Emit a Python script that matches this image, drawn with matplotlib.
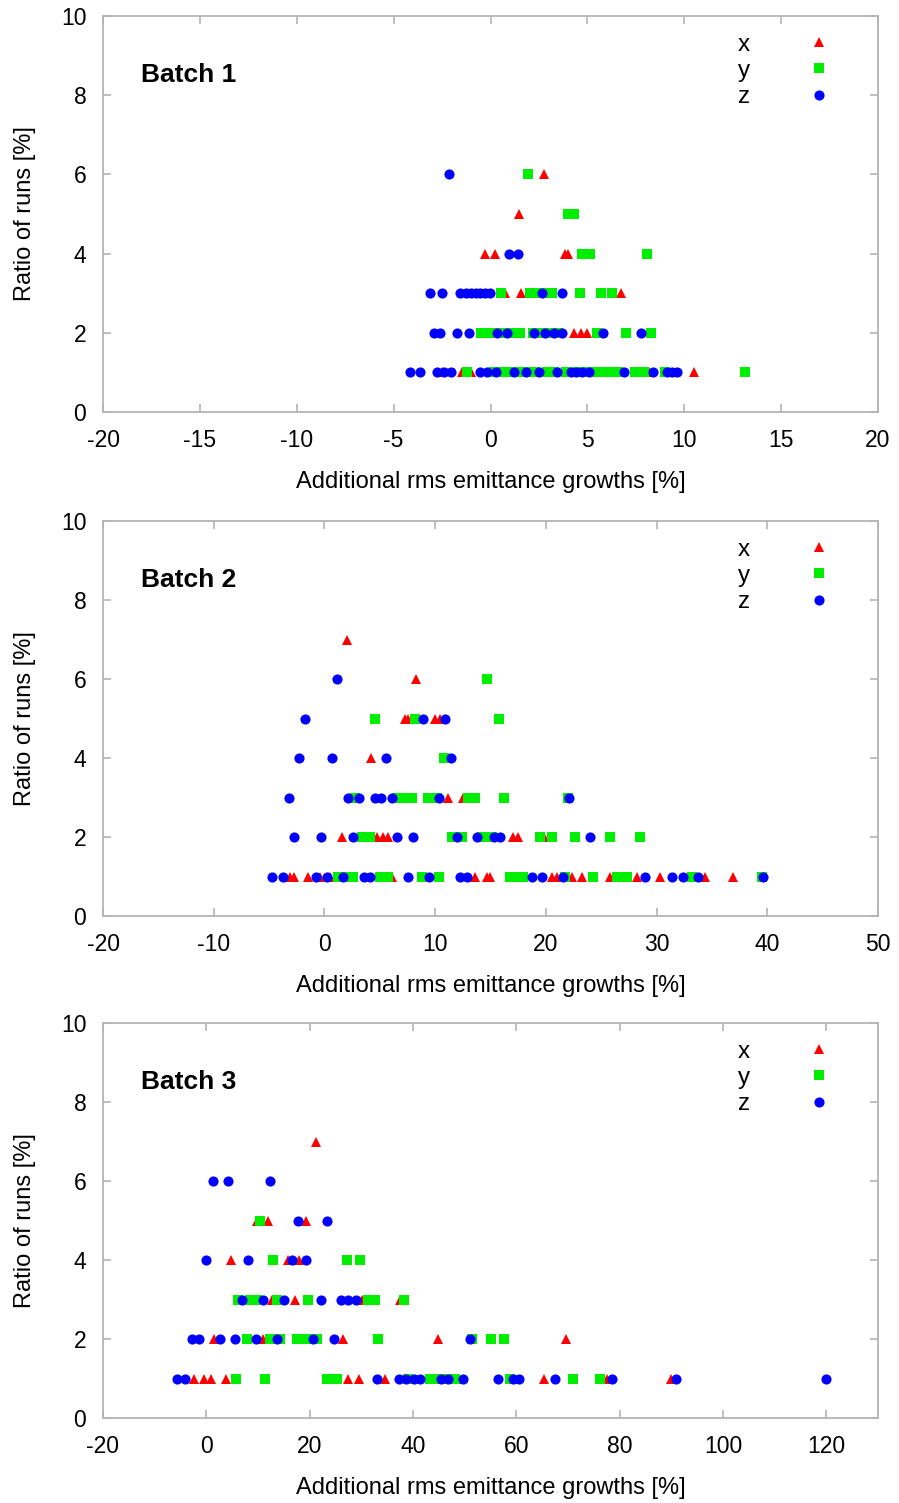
import matplotlib
matplotlib.use("Agg")
import matplotlib.pyplot as plt

plt.rcParams['font.family'] = ['Liberation Sans', 'DejaVu Sans']
plt.rcParams['axes.unicode_minus'] = False

# ---------------- data ----------------
b1_x_val = [2.75, 1.46, -0.29, 0.22, 3.82, 3.99, 0.74, 1.58, 6.74, 4.3, 4.65, 4.99,
            -2.49, -1.46, -1.03, 8.17, 10.5]
b1_x_run = [6, 5, 4, 4, 4, 4, 3, 3, 3, 2, 2, 2, 1, 1, 1, 1, 1]
b1_y_val = [1.94, 4.0, 4.3, 4.73, 5.13, 8.07,
            0.52, 2.06, 2.41, 2.75, 3.18, 4.61, 5.68, 6.28,
            -0.5, -0.1, 0.3, 0.7, 1.1, 1.5, 2.2, 2.6, 3.0, 3.5, 5.5, 6.97, 8.26,
            -1.2, 0.2, 0.7, 1.0, 1.5, 2.0, 2.3, 2.9, 3.3, 3.9, 4.5, 5.0, 5.4, 5.8, 6.2, 6.6,
            7.45, 7.91, 9.03, 13.13]
b1_y_run = [6, 5, 5, 4, 4, 4,
            3, 3, 3, 3, 3, 3, 3, 3,
            2, 2, 2, 2, 2, 2, 2, 2, 2, 2, 2, 2, 2,
            1, 1, 1, 1, 1, 1, 1, 1, 1, 1, 1, 1, 1, 1, 1, 1,
            1, 1, 1, 1]
b1_z_val = [-2.15, 0.95, 1.43,
            -3.1, -2.49, -1.55, -1.29, -1.03, -0.77, -0.52, -0.26, -0.03, 2.67, 3.7,
            -2.92, -2.62, -1.72, -1.12, 0.34, 0.83, 2.24, 2.79, 3.27, 3.7, 5.8, 7.78,
            -4.13, -3.65, -2.75, -2.41, -2.06, -0.52, -0.17, 0.26, 1.2, 1.81, 2.49, 3.44,
            4.13, 4.39, 4.73, 5.07, 6.88, 8.38, 9.12, 9.38, 9.64]
b1_z_run = [6, 4, 4,
            3, 3, 3, 3, 3, 3, 3, 3, 3, 3, 3,
            2, 2, 2, 2, 2, 2, 2, 2, 2, 2, 2, 2,
            1, 1, 1, 1, 1, 1, 1, 1, 1, 1, 1, 1,
            1, 1, 1, 1, 1, 1, 1, 1, 1]

b2_x_val = [2.01, 8.24, 7.28, 7.58, 9.99, 10.44, 4.21, 11.19, 12.49,
            1.56, 4.78, 5.27, 5.72, 17.0, 17.46, 19.8,
            -3.1, -2.75, -1.45, -0.4, 0.5, 6.08, 13.6, 14.66, 14.96, 20.53, 20.98,
            22.4, 23.24, 25.8, 28.2, 30.3, 34.38, 36.94]
b2_x_run = [7, 6, 5, 5, 5, 5, 4, 3, 3,
            2, 2, 2, 2, 2, 2, 2,
            1, 1, 1, 1, 1, 1, 1, 1, 1, 1, 1,
            1, 1, 1, 1, 1, 1, 1]
b2_y_val = [14.66, 4.57, 8.18, 15.74, 10.8,
            2.76, 6.53, 7.28, 7.89, 9.39, 10.14, 13.0, 13.6, 16.25, 22.0,
            3.37, 4.12, 11.5, 12.4, 14.2, 15.1, 19.48, 20.53, 22.67, 25.83, 28.51,
            1.26, 2.0, 2.61, 5.02, 5.77, 8.79, 10.38, 16.77, 17.37, 17.97, 21.7,
            24.23, 26.4, 27.36, 33.18, 39.5]
b2_y_run = [6, 5, 5, 5, 4,
            3, 3, 3, 3, 3, 3, 3, 3, 3, 3,
            2, 2, 2, 2, 2, 2, 2, 2, 2, 2, 2,
            1, 1, 1, 1, 1, 1, 1, 1, 1, 1, 1,
            1, 1, 1, 1, 1]
b2_z_val = [1.17, -1.72, 8.94, 10.9, -2.26, 0.72, 5.53, 11.41,
            -3.2, 2.16, 3.13, 4.57, 5.11, 6.08, 10.35, 22.12,
            -2.72, -0.28, 2.61, 6.59, 7.97, 11.95, 13.81, 15.35, 15.86, 24.02,
            -4.7, -3.71, -0.76, 0.2, 1.71, 3.6, 4.12, 7.52, 9.48, 12.25, 12.85,
            18.72, 19.68, 21.58, 28.96, 31.43, 32.37, 33.78, 39.65]
b2_z_run = [6, 5, 5, 5, 4, 4, 4, 4,
            3, 3, 3, 3, 3, 3, 3, 3,
            2, 2, 2, 2, 2, 2, 2, 2, 2, 2,
            1, 1, 1, 1, 1, 1, 1, 1, 1, 1, 1,
            1, 1, 1, 1, 1, 1, 1, 1]

b3_x_val = [21.2, 9.75, 12.0, 19.3, 4.7, 15.9, 18.0, 12.66, 17.2, 30.1, 37.5,
            1.55, 11.0, 26.4, 44.9, 69.6,
            -2.4, -0.4, 0.85, 3.8, 27.5, 29.6, 34.6, 48.8, 65.4, 77.6, 89.9]
b3_x_run = [7, 5, 5, 5, 4, 4, 4, 3, 3, 3, 3,
            2, 2, 2, 2, 2,
            1, 1, 1, 1, 1, 1, 1, 1, 1, 1, 1]
b3_y_val = [10.4, 12.97, 27.3, 29.75,
            6.2, 8.46, 9.75, 13.6, 19.7, 31.35, 32.65, 38.3,
            7.94, 12.3, 14.3, 17.5, 19.4, 21.4, 33.2, 51.5, 55.0, 57.6,
            5.7, 11.4, 23.3, 25.2, 39.0, 43.3, 44.9, 46.5, 48.1, 58.8, 70.9, 76.1]
b3_y_run = [5, 4, 4, 4,
            3, 3, 3, 3, 3, 3, 3, 3,
            2, 2, 2, 2, 2, 2, 2, 2, 2, 2,
            1, 1, 1, 1, 1, 1, 1, 1, 1, 1, 1, 1]
b3_z_val = [1.36, 4.14, 12.4, 17.8, 23.4, -0.06, 8.1, 16.5, 19.2,
            6.85, 11.0, 15.0, 22.1, 26.0, 27.5, 29.0,
            -2.83, -1.35, 2.65, 5.55, 9.6, 13.75, 20.6, 24.7, 51.0,
            -5.7, -4.1, 33.0, 37.2, 38.7, 40.1, 41.4, 45.4, 46.8, 49.6, 56.4,
            59.3, 60.6, 67.5, 78.5, 90.9, 119.9]
b3_z_run = [6, 6, 6, 5, 5, 4, 4, 4, 4,
            3, 3, 3, 3, 3, 3, 3,
            2, 2, 2, 2, 2, 2, 2, 2, 2,
            1, 1, 1, 1, 1, 1, 1, 1, 1, 1, 1,
            1, 1, 1, 1, 1, 1]

batch_titles = ["Batch 1", "Batch 2", "Batch 3"]
xlims = [(-20, 20), (-20, 50), (-20, 130)]
xticks = [[-20, -15, -10, -5, 0, 5, 10, 15, 20],
          [-20, -10, 0, 10, 20, 30, 40, 50],
          [-20, 0, 20, 40, 60, 80, 100, 120]]
yticks = [0, 2, 4, 6, 8, 10]
series_labels = ["x", "y", "z"]

panels = [
    [(b1_x_val, b1_x_run), (b1_y_val, b1_y_run), (b1_z_val, b1_z_run)],
    [(b2_x_val, b2_x_run), (b2_y_val, b2_y_run), (b2_z_val, b2_z_run)],
    [(b3_x_val, b3_x_run), (b3_y_val, b3_y_run), (b3_z_val, b3_z_run)],
]

colors = ["#ff0000", "#00ee00", "#0000ff"]
markers = ["^", "s", "o"]

# ---------------- figure ----------------
W, H = 899, 1503
fig = plt.figure(figsize=(W / 100, H / 100), dpi=100)
left = 103 / W
width = 775 / W
tops = [16, 521, 1023]
bottoms = [412, 916, 1418]
frame_col = "#b4b4b4"

for i in range(3):
    ax = fig.add_axes([left, 1 - bottoms[i] / H, width, (bottoms[i] - tops[i]) / H])
    for (vals, runs), c, m, lab in zip(panels[i], colors, markers, series_labels):
        ax.plot(vals, runs, linestyle="none", marker=m, color=c, markersize=7.3,
                markeredgewidth=0, label=lab)
    ax.set_xlim(*xlims[i])
    ax.set_ylim(0, 10)
    ax.set_xticks(xticks[i])
    ax.set_yticks(yticks)
    for s in ax.spines.values():
        s.set_color(frame_col)
        s.set_linewidth(1.3)
    ax.tick_params(direction="in", length=6, width=1.2, color=frame_col,
                   top=True, right=True, labelsize=16.5)
    ax.tick_params(axis="x", pad=12)
    ax.tick_params(axis="y", pad=12)
    ax.set_xlabel("Additional rms emittance growths [%]", fontsize=17, labelpad=14)
    ax.set_ylabel("Ratio of runs [%]", fontsize=17, labelpad=18)
    ax.text(0.049, 0.85, batch_titles[i], transform=ax.transAxes, fontsize=19,
            fontweight="bold", ha="left", va="center")
    ax.legend(loc="upper right", bbox_to_anchor=(0.962, 0.998), frameon=False,
              markerfirst=False, fontsize=17.5, handlelength=1.0,
              handletextpad=2.35, labelspacing=0.17, borderpad=0.2, numpoints=1)

fig.savefig("out.png", dpi=100)
